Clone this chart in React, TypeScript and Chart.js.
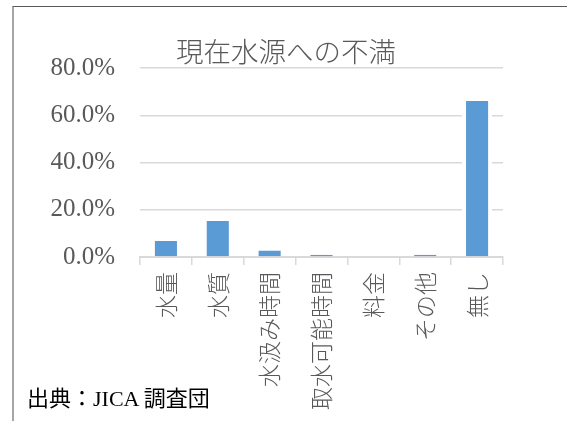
import React, { useEffect, useRef } from "react";
import { Chart, registerables } from "chart.js";

Chart.register(...registerables);

const categories: string[] = ["水量", "水質", "水汲み時間", "取水可能時間", "料金", "その他", "無し"];
const values: number[] = [6.8, 15.2, 2.7, 0.9, 0, 0.9, 66.0];
const yTicks: number[] = [0, 20, 40, 60, 80];
const titleText = "現在水源への不満";
const sourceText = "出典：JICA 調査団";

export default function App() {
  const ref = useRef<HTMLCanvasElement | null>(null);

  useEffect(() => {
    if (!ref.current) return;
    const chart = new Chart(ref.current, {
      type: "bar",
      data: {
        labels: categories,
        datasets: [
          {
            data: values,
            backgroundColor: "#5b9bd5",
            borderColor: "#ffffff",
            borderWidth: { left: 4, right: 4, top: 0, bottom: 0 } as any,
            borderSkipped: false as any,
            barPercentage: 0.58,
            categoryPercentage: 1,
          },
        ],
      },
      options: {
        animation: false,
        responsive: false,
        devicePixelRatio: 1,
        layout: { padding: { left: 0, top: 68, right: 64, bottom: 0 } },
        plugins: {
          legend: { display: false },
          tooltip: { enabled: false },
          title: { display: false },
        },
        scales: {
          x: {
            grid: {
              display: true,
              drawOnChartArea: false,
              drawTicks: true,
              tickLength: 8,
              color: "#d9d9d9",
              lineWidth: 1.5,
              offset: true,
            },
            border: { display: true, color: "#d9d9d9", width: 2 },
            ticks: {
              minRotation: 90,
              maxRotation: 90,
              autoSkip: false,
              padding: 7,
              color: "#595959",
              font: { family: '"Noto Sans CJK JP"', size: 23, weight: 300 as any },
            },
            afterFit: (s: any) => {
              s.height = 164;
            },
          },
          y: {
            min: 0,
            max: 80,
            afterBuildTicks: (s: any) => {
              s.ticks = yTicks.map((v) => ({ value: v }));
            },
            ticks: {
              stepSize: 20,
              padding: 25,
              color: "#595959",
              font: { family: '"Liberation Serif"', size: 25 },
              callback: (v: any) => Number(v).toFixed(1) + "%",
            },
            grid: { color: "#d9d9d9", lineWidth: 1.5, drawTicks: false },
            border: { display: false },
            afterFit: (s: any) => {
              s.width = 140;
            },
          },
        },
      },
    });
    return () => chart.destroy();
  }, []);

  return (
    <div
      style={{
        position: "absolute",
        left: 0,
        top: 0,
        width: 567,
        height: 421,
        background: "#ffffff",
        overflow: "hidden",
      }}
    >
      <div
        style={{
          position: "absolute",
          left: 12,
          top: 6,
          width: 620,
          height: 500,
          borderTop: "1px solid #595959",
          borderLeft: "2px solid #a6a6a6",
        }}
      />
      <canvas
        ref={ref}
        width={567}
        height={421}
        style={{ position: "absolute", left: 0, top: 0, width: 567, height: 421 }}
      />
      <div
        style={{
          position: "absolute",
          left: 176,
          top: 35,
          fontFamily: '"Noto Sans CJK JP"',
          fontSize: 27.5,
          fontWeight: 300,
          lineHeight: "30px",
          color: "#595959",
          whiteSpace: "nowrap",
        }}
      >
        {titleText}
      </div>
      <div
        style={{
          position: "absolute",
          left: 27,
          top: 386,
          fontFamily: '"Liberation Serif", "Noto Sans CJK JP"',
          fontSize: 22,
          lineHeight: "26px",
          color: "#000000",
          whiteSpace: "nowrap",
        }}
      >
        {sourceText}
      </div>
    </div>
  );
}
